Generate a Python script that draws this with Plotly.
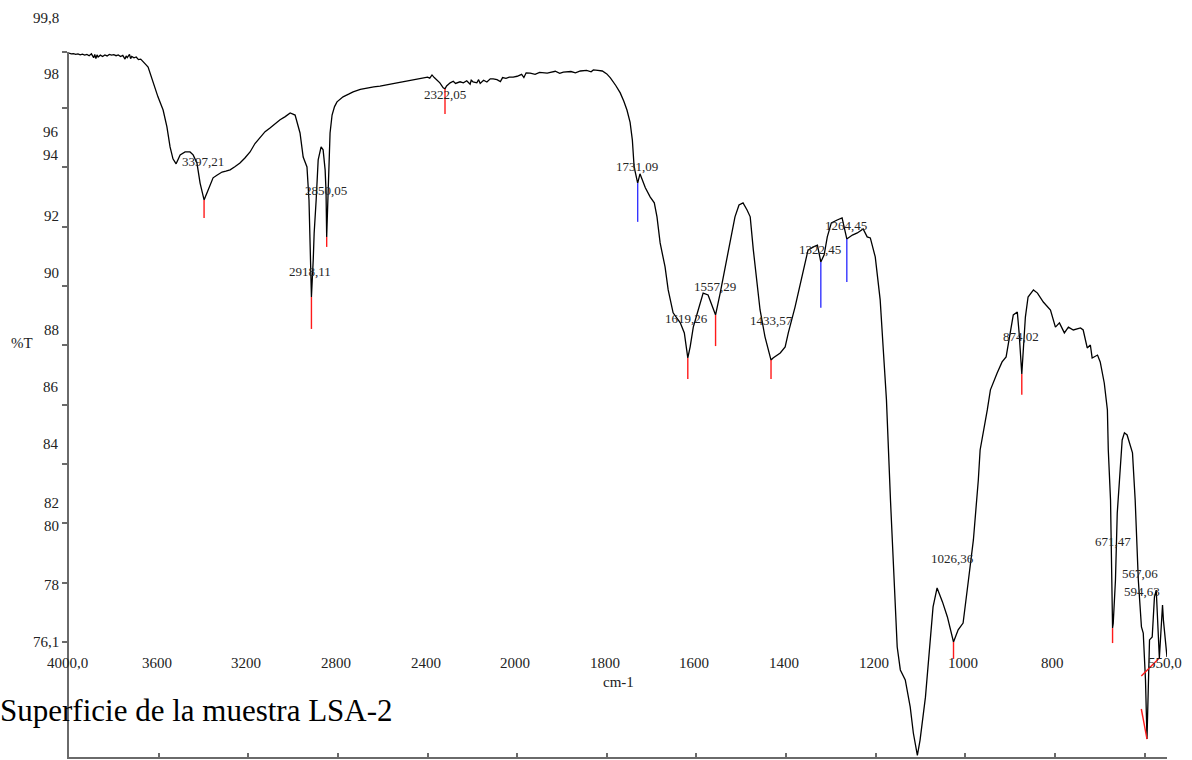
import numpy as np
import plotly.graph_objects as go

# ---- spectrum (wavenumber in cm-1, transmittance in %T) ----
wavenumber = [
    4000, 3990, 3980, 3970, 3960, 3950, 3940, 3930, 3920, 3910, 3900, 3890, 3885, 3880,
    3875, 3870, 3860, 3850, 3840, 3830, 3820, 3810, 3800, 3790, 3780, 3770, 3760, 3750,
    3745, 3740, 3730, 3725, 3720, 3710, 3700, 3690, 3680, 3670, 3660, 3647, 3625, 3603,
    3580, 3563, 3549, 3536, 3522, 3504, 3482, 3460, 3446, 3429, 3415, 3397.21, 3379, 3357,
    3340, 3317, 3300, 3281, 3260, 3237, 3215, 3192, 3170, 3147, 3125, 3103, 3080, 3058,
    3035, 3013, 2991, 2969, 2955, 2938, 2929, 2924, 2918.11, 2910, 2906, 2897, 2888, 2875,
    2866, 2857, 2853, 2850.05, 2845, 2839, 2835, 2826, 2815, 2804, 2777, 2750, 2732, 2700,
    2670, 2640, 2612, 2580, 2536, 2500, 2464, 2430, 2400, 2390, 2380, 2370, 2357, 2345,
    2330, 2322.05, 2315, 2299, 2285, 2275, 2255, 2240, 2225, 2210, 2205, 2197, 2180, 2172,
    2165, 2150, 2135, 2120, 2107, 2090, 2075, 2065, 2050, 2035, 2018, 2000, 1990, 1985,
    1980, 1971, 1960, 1950, 1933, 1915, 1905, 1897, 1880, 1870, 1859, 1845, 1835, 1830,
    1820, 1810, 1800, 1792, 1780, 1770, 1762, 1755, 1748, 1743, 1739, 1731.09, 1726, 1720,
    1714, 1703, 1694, 1688, 1681, 1670, 1663, 1652, 1636, 1627, 1619.26, 1614, 1607, 1596,
    1585, 1574, 1563, 1557.29, 1547, 1536, 1525, 1514, 1505, 1496, 1487, 1480, 1473, 1464,
    1458, 1447, 1433.57, 1429, 1413, 1402, 1395, 1380, 1368, 1357, 1351, 1339, 1330, 1322.45,
    1315, 1308, 1299, 1286, 1275, 1264.45, 1252, 1241, 1228, 1219, 1212, 1201, 1190, 1183,
    1176, 1167, 1161, 1152, 1145, 1134, 1123, 1116, 1107, 1101, 1089, 1078, 1072, 1063,
    1051, 1040, 1026.36, 1016, 1005, 993, 982, 971, 967, 951, 944, 929, 918, 909,
    900, 893, 884, 880, 874.02, 866, 860, 848, 839, 826, 810, 799, 790, 779,
    770, 759, 743, 737, 728, 721, 717, 705, 699, 690, 683, 681, 676, 671.47,
    670, 665, 661, 656, 650, 645, 639, 627, 621, 614, 607, 603, 598, 594.63,
    589, 583, 578, 574, 569, 567.06, 560, 558, 550,
]
transmittance = [
    98.43, 98.40, 98.41, 98.38, 98.40, 98.36, 98.39, 98.35, 98.38, 98.33, 98.40, 98.25, 98.38, 98.22,
    98.36, 98.28, 98.35, 98.30, 98.36, 98.32, 98.38, 98.35, 98.37, 98.33, 98.36, 98.30, 98.34, 98.20,
    98.32, 98.26, 98.38, 98.22, 98.30, 98.25, 98.28, 98.18, 98.20, 98.09, 98.02, 97.90, 97.30, 96.77,
    96.27, 95.63, 94.87, 94.42, 94.23, 94.57, 94.68, 94.68, 94.57, 94.26, 93.50, 92.86, 93.24, 93.70,
    93.80, 93.92, 93.95, 94.00, 94.12, 94.26, 94.45, 94.68, 95.00, 95.25, 95.45, 95.59, 95.75, 95.90,
    96.02, 96.16, 96.08, 95.40, 94.49, 94.11, 92.86, 91.00, 89.18, 90.60, 91.60, 92.86, 94.38, 94.87,
    94.76, 94.00, 93.20, 91.46, 92.60, 93.80, 95.40, 96.08, 96.40, 96.58, 96.77, 96.88, 96.96, 97.05,
    97.11, 97.15, 97.18, 97.22, 97.30, 97.36, 97.41, 97.45, 97.52, 97.48, 97.60, 97.50, 97.41, 97.30,
    97.11, 97.07, 97.18, 97.30, 97.36, 97.28, 97.34, 97.30, 97.38, 97.25, 97.40, 97.34, 97.30, 97.42,
    97.28, 97.40, 97.33, 97.45, 97.45, 97.42, 97.35, 97.50, 97.47, 97.52, 97.52, 97.55, 97.62, 97.50,
    97.68, 97.67, 97.62, 97.70, 97.67, 97.74, 97.66, 97.71, 97.73, 97.68, 97.75, 97.77, 97.72, 97.79,
    97.77, 97.75, 97.64, 97.49, 97.20, 96.92, 96.60, 96.27, 95.80, 95.14, 94.11, 93.50, 93.85, 93.60,
    93.32, 92.97, 92.75, 92.22, 91.23, 90.32, 89.45, 88.58, 88.20, 87.82, 86.87, 87.29, 88.04, 88.69,
    89.33, 89.26, 88.80, 88.50, 89.33, 90.28, 91.23, 92.22, 92.67, 92.75, 92.48, 92.22, 90.96, 89.71,
    88.69, 87.67, 86.79, 86.87, 87.06, 87.29, 87.82, 88.80, 89.71, 90.59, 90.96, 91.08, 91.15, 90.51,
    90.78, 91.46, 91.99, 92.10, 92.18, 91.38, 91.53, 91.61, 91.76, 91.46, 91.42, 90.70, 89.07, 87.17,
    85.28, 81.48, 79.10, 75.91, 75.04, 74.66, 73.64, 72.65, 71.80, 72.38, 74.01, 76.44, 77.43, 78.15,
    77.62, 77.05, 76.10, 76.56, 76.82, 78.45, 79.97, 82.24, 83.38, 84.90, 85.66, 86.30, 86.72, 86.91,
    87.82, 88.50, 88.61, 87.82, 86.26, 88.42, 89.18, 89.45, 89.33, 88.99, 88.69, 88.04, 88.20, 87.82,
    88.04, 87.93, 88.01, 87.93, 87.25, 87.36, 86.87, 86.98, 86.72, 85.92, 84.90, 83.38, 81.48, 76.63,
    76.80, 78.45, 80.99, 82.24, 83.76, 84.03, 83.95, 83.27, 81.48, 78.45, 76.67, 76.44, 74.66, 72.42,
    76.18, 76.29, 77.81, 78.07, 76.56, 75.49, 77.50, 76.93, 75.53,
]

# ---- labelled peaks ----
peak_wn = [3397.21, 2918.11, 2850.05, 2322.05, 1731.09, 1619.26, 1557.29, 1433.57,
           1322.45, 1264.45, 1026.36, 874.02, 671.47, 594.63, 567.06]
peak_color = ["red", "red", "red", "red", "blue", "red", "red", "red",
              "blue", "blue", "red", "red", "red", "red", "red"]
# far end of each peak marker (wavenumber, %T)
marker_end_wn = [3397.21, 2918.11, 2850.05, 2322.05, 1731.09, 1619.26, 1557.29, 1433.57,
                 1322.45, 1264.45, 1026.36, 874.02, 671.47, 607.3, 607.3]
marker_end_t = [92.18, 87.97, 91.08, 96.12, 92.03, 86.07, 87.32, 86.07,
                88.77, 89.75, 75.46, 85.47, 76.06, 73.56, 74.81]
# label offsets from the peak point, in pixels
label_dy = [38, 26, 46, -6, 17, 39, 28, 40, 12, 14, 84, 38, 87, 148, 85]
label_dx = [-1, -1, -1, 0, -1, -1, -1, 0, -1, -1, -1, -1, 0, -5, -19]

# ---- axis tick labels ----
x_tick_wn = [4000, 3600, 3200, 2800, 2400, 2000, 1800, 1600, 1400, 1200, 1000, 800, 550]
x_tick_text = ["4000,0", "3600", "3200", "2800", "2400", "2000", "1800", "1600",
               "1400", "1200", "1000", "800", "550,0"]
y_label_text = ["99,8", "98", "96", "94", "92", "90", "88", "86", "84", "82", "80", "78", "76,1"]
y_label_px = [18, 74, 132, 155, 216, 273, 330, 387, 444, 503, 526, 585, 642]

W, H = 1192, 760
ML, MR, MT, MB = 69, 25, 52, 3
PLOT_H = H - MT - MB
Y_BOTTOM, Y_TOP = 71.74, 98.47
FONT = "Liberation Serif"
AXIS_GRAY = "#6a6a6a"
LINE_COLORS = {"red": "#ff1a1a", "blue": "#3535ff"}


def to_axis(wn):
    """Instrument abscissa: 400 cm-1 per division above 2000, 200 cm-1 below."""
    wn = np.asarray(wn, dtype=float)
    return np.where(wn >= 2000, (4000 - wn) / 2, 3000 - wn)


wn_arr = np.array(wavenumber, dtype=float)
t_arr = np.array(transmittance, dtype=float)
ux = to_axis(wn_arr)

fig = go.Figure()
fig.add_trace(go.Scatter(x=ux, y=t_arr, mode="lines",
                         line=dict(color="black", width=1.3),
                         hoverinfo="skip", showlegend=False))

# peak marker segments, one trace per colour
order = np.argsort(ux)
for col in ("red", "blue"):
    xs, ys = [], []
    for wn, c, ew, et in zip(peak_wn, peak_color, marker_end_wn, marker_end_t):
        if c != col:
            continue
        ustart = float(to_axis(wn))
        tstart = float(np.interp(ustart, ux[order], t_arr[order]))
        xs += [ustart, float(to_axis(ew)), None]
        ys += [tstart, et, None]
    fig.add_trace(go.Scatter(x=xs, y=ys, mode="lines",
                             line=dict(color=LINE_COLORS[col], width=1.4),
                             hoverinfo="skip", showlegend=False))

annotations = []
for wn, dy, dx in zip(peak_wn, label_dy, label_dx):
    u = float(to_axis(wn))
    t = float(np.interp(u, ux[order], t_arr[order]))
    annotations.append(dict(
        x=u, y=t, xref="x", yref="y", text=f"{wn:.2f}".replace(".", ","),
        showarrow=False, xanchor="center", yanchor="middle", yshift=dy, xshift=dx,
        font=dict(family=FONT, size=13, color="#262626")))

for wn, txt in zip(x_tick_wn, x_tick_text):
    annotations.append(dict(
        x=float(to_axis(wn)), y=(H - MB - 663) / PLOT_H, xref="x", yref="paper",
        text=txt, showarrow=False, xanchor="center", yanchor="middle", xshift=-2,
        font=dict(family=FONT, size=15, color="#222222")))

for txt, py in zip(y_label_text, y_label_px):
    annotations.append(dict(
        x=0, y=(H - MB - py) / PLOT_H, xref="paper", yref="paper", text=txt,
        showarrow=False, xanchor="right", yanchor="middle", xshift=-8,
        font=dict(family=FONT, size=15, color="#222222")))

annotations.append(dict(
    x=0.5, y=(H - MB - 682) / PLOT_H, xref="paper", yref="paper", text="cm-1",
    showarrow=False, xanchor="center", yanchor="middle",
    font=dict(family=FONT, size=15, color="#222222")))
annotations.append(dict(
    x=0, y=(H - MB - 343) / PLOT_H, xref="paper", yref="paper", text="%T",
    showarrow=False, xanchor="center", yanchor="middle", xshift=-47,
    font=dict(family=FONT, size=15, color="#222222")))
annotations.append(dict(
    x=0, y=(H - MB - 710) / PLOT_H, xref="paper", yref="paper",
    text="Superficie de la muestra LSA-2",
    showarrow=False, xanchor="right", yanchor="middle", xshift=395 - ML,
    font=dict(family=FONT, size=31, color="black")))

y_ticks = list(np.arange(76.1, 97.0, 2.25)) + [Y_TOP]

fig.update_layout(
    width=W, height=H,
    margin=dict(l=ML, r=MR, t=MT, b=MB, pad=0),
    paper_bgcolor="white", plot_bgcolor="white",
    showlegend=False,
    annotations=annotations,
    xaxis=dict(range=[0, 2450], showgrid=False, zeroline=False,
               showline=True, linecolor=AXIS_GRAY, linewidth=2,
               ticks="inside", ticklen=4, tickwidth=1.5, tickcolor=AXIS_GRAY,
               tickmode="linear", tick0=0, dtick=200, showticklabels=False),
    yaxis=dict(range=[Y_BOTTOM, Y_TOP], showgrid=False, zeroline=False,
               showline=True, linecolor=AXIS_GRAY, linewidth=2,
               ticks="outside", ticklen=5, tickwidth=1.5, tickcolor=AXIS_GRAY,
               tickmode="array", tickvals=y_ticks, showticklabels=False),
)

fig.write_html("out.html")
